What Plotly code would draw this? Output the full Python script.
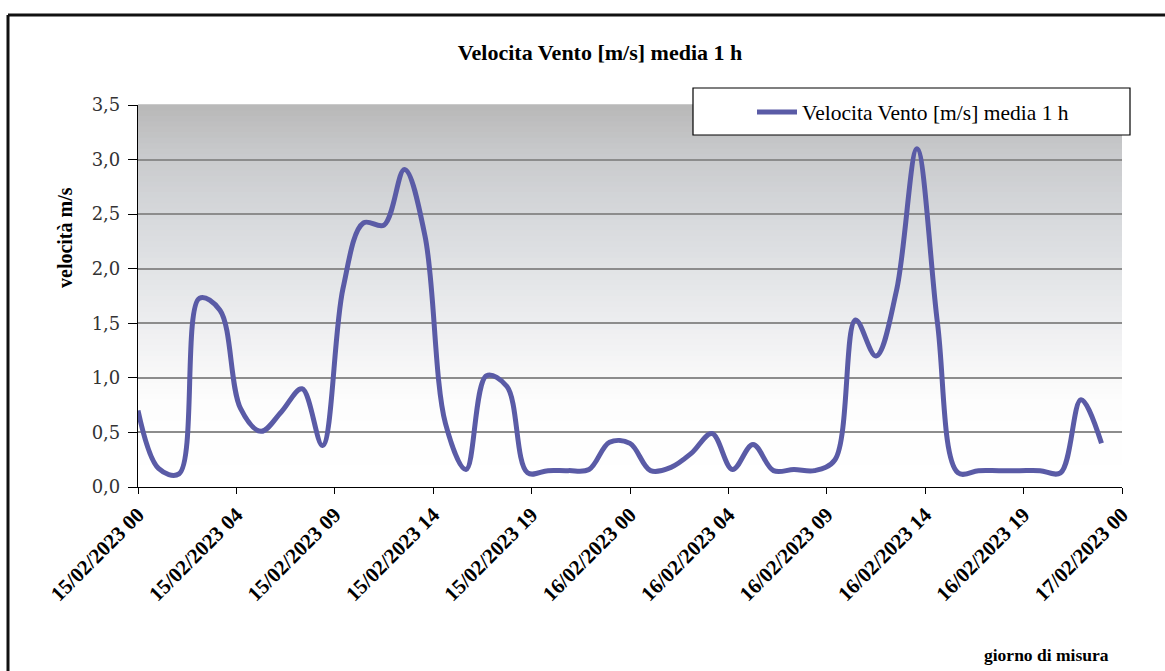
import datetime as dt
import plotly.graph_objects as go

# Hourly mean wind speed, 15/02/2023 00:00 -> 16/02/2023 23:00
start = dt.datetime(2023, 2, 15, 0)
speed_ms = [
    0.70, 0.17, 0.12, 1.73, 1.62, 0.72, 0.51, 0.69, 0.90, 0.38,
    1.82, 2.42, 2.40, 2.91, 2.30, 0.58, 0.16, 1.02, 0.92, 0.13,
    0.15, 0.15, 0.16, 0.41, 0.40, 0.15, 0.18, 0.31, 0.49, 0.16,
    0.39, 0.15, 0.16, 0.15, 0.25, 1.53, 1.20, 1.80, 3.10, 1.50,
    0.13, 0.15, 0.15, 0.15, 0.15, 0.13, 0.80, 0.40,
]
times = [start + dt.timedelta(hours=i) for i in range(len(speed_ms))]

# Axis labels every 4.8 h over the 48 h window, hour truncated
tick_step_h = 4.8
tick_times = [start + dt.timedelta(hours=tick_step_h * k) for k in range(11)]
tick_text = [t.strftime("%d/%m/%Y %H") for t in tick_times]
y_ticks = [0.0, 0.5, 1.0, 1.5, 2.0, 2.5, 3.0, 3.5]

series_name = "Velocita Vento [m/s] media 1 h"
chart_title = "Velocita Vento [m/s] media 1 h"
y_title = "velocità m/s"
x_title = "giorno di misura"

W, H = 1165, 671
ML, MR, MT, MB = 138, 43, 105, 184
PW, PH = W - ML - MR, H - MT - MB


def px(x):
    return (x - ML) / PW


def py(y):
    return (H - MB - y) / PH


SERIF = "Liberation Serif"
LINE_COLOR = "#5a5ba6"

fig = go.Figure()
fig.add_trace(go.Scatter(
    x=times, y=speed_ms, mode="lines", name=series_name,
    line=dict(color=LINE_COLOR, width=5, shape="spline", smoothing=1.0),
    showlegend=True,
))

shapes = []
# vertical grey-to-white gradient behind the plot
stops = [(0.0, (255, 255, 255)), (0.22, (253, 253, 253)), (0.33, (245, 245, 246)),
         (0.45, (235, 236, 238)), (0.6, (223, 225, 228)), (0.75, (211, 213, 216)),
         (0.88, (200, 201, 203)), (1.0, (184, 184, 184))]


def grad(f):
    for (a, ca), (b, cb) in zip(stops[:-1], stops[1:]):
        if a <= f <= b:
            t = (f - a) / (b - a)
            return tuple(round(ca[i] + (cb[i] - ca[i]) * t) for i in range(3))
    return stops[-1][1]


n_bands = 70
for i in range(n_bands):
    f0, f1 = i / n_bands, (i + 1) / n_bands
    c = grad((f0 + f1) / 2)
    shapes.append(dict(type="rect", xref="x domain", yref="y domain",
                       x0=0, x1=1, y0=f0, y1=f1 + 0.002, layer="below",
                       line=dict(width=0), fillcolor=f"rgb{c}"))

# legend box
shapes.append(dict(type="rect", xref="paper", yref="paper",
                   x0=px(693), x1=px(1130), y0=py(135), y1=py(88),
                   fillcolor="white", line=dict(color="black", width=1.2),
                   layer="above"))
# outer frame (top and left edges)
shapes.append(dict(type="line", xref="paper", yref="paper",
                   x0=px(8), x1=px(1170), y0=py(15), y1=py(15),
                   line=dict(color="#111", width=3)))
shapes.append(dict(type="line", xref="paper", yref="paper",
                   x0=px(8), x1=px(8), y0=py(15), y1=py(680),
                   line=dict(color="#111", width=3)))

fig.update_layout(
    width=W, height=H,
    margin=dict(l=ML, r=MR, t=MT, b=MB, autoexpand=False),
    paper_bgcolor="white", plot_bgcolor="white",
    separators=",.",
    font=dict(family=SERIF, color="black"),
    title=dict(text=f"<b>{chart_title}</b>", x=px(600), xref="paper",
               xanchor="center", y=1 - 52 / H, yref="container",
               yanchor="middle", font=dict(size=22, family=SERIF)),
    shapes=shapes,
    legend=dict(x=px(752), y=py(112), xanchor="left", yanchor="middle",
                bgcolor="rgba(0,0,0,0)", borderwidth=0,
                font=dict(size=21.5, family=SERIF), itemwidth=40),
    xaxis=dict(
        range=[start, start + dt.timedelta(hours=48)],
        tickvals=tick_times, ticktext=tick_text, tickangle=-45,
        tickfont=dict(size=21, family=SERIF, weight="bold"),
        showgrid=False, showline=True, linecolor="black", linewidth=1.2,
        ticks="outside", ticklen=6, tickcolor="black", zeroline=False,
    ),
    yaxis=dict(
        range=[0, 3.5], tickvals=y_ticks, tickformat=".1f",
        tickfont=dict(size=18, family="DejaVu Serif", color="#333"),
        showgrid=True, gridcolor="#8c8c8c", gridwidth=1.5,
        showline=True, linecolor="black", linewidth=1.2,
        ticks="outside", ticklen=9, tickcolor="black", zeroline=False,
        ticklabelstandoff=4,
    ),
    annotations=[
        dict(text=f"<b>{y_title}</b>", xref="paper", yref="paper",
             x=px(65), y=py(238), textangle=-90, showarrow=False,
             xanchor="center", yanchor="middle",
             font=dict(size=20, family=SERIF)),
        dict(text=f"<b>{x_title}</b>", xref="paper", yref="paper",
             x=px(1046), y=py(655), showarrow=False,
             xanchor="center", yanchor="middle",
             font=dict(size=17.5, family=SERIF)),
    ],
)

fig.write_html("out.html")
